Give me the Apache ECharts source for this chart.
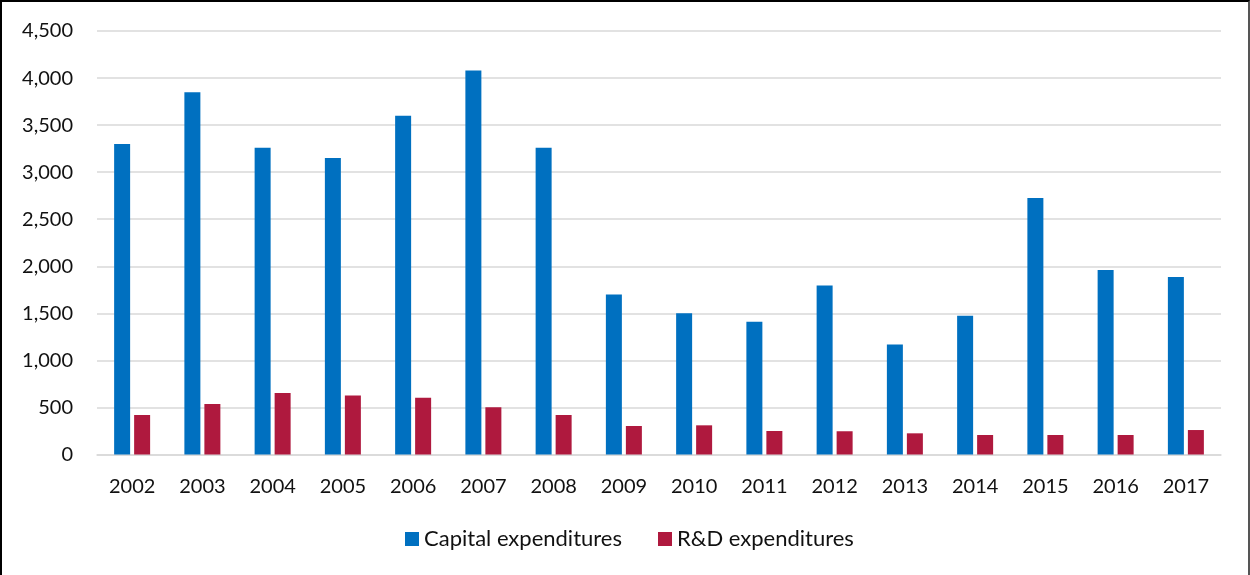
<!DOCTYPE html>
<html>
<head>
<meta charset="utf-8">
<script src="https://cdn.jsdelivr.net/npm/echarts@6/dist/echarts.min.js"></script>
<style>
  html, body { margin: 0; padding: 0; background: #fff; }
  #frame { position: absolute; left: 0; top: 0; width: 1250px; height: 575px; box-sizing: border-box;
           border-left: 2px solid #000; border-top: 2px solid #000; border-right: 2px solid #555; }
  #chart { position: absolute; left: 0; top: 0; width: 1250px; height: 575px; }
</style>
</head>
<body>
<div id="chart"></div>
<div id="frame"></div>
<script>
// Annual spending, 2002-2017
const years = ['2002','2003','2004','2005','2006','2007','2008','2009','2010','2011','2012','2013','2014','2015','2016','2017'];
const capitalExpenditures = [3300, 3850, 3260, 3150, 3600, 4080, 3260, 1700, 1500, 1410, 1795, 1170, 1475, 2725, 1960, 1885];
const rdExpenditures = [420, 537, 654, 626, 604, 502, 420, 303, 310, 250, 247, 225, 207, 207, 207, 260];
const seriesNames = ['Capital expenditures', 'R&D expenditures'];

const FONT = 'Lato';
const TEXT = '#111';
const chart = echarts.init(document.getElementById('chart'), null, { renderer: 'canvas' });
chart.setOption({
  animation: false,
  backgroundColor: '#fff',
  textStyle: { fontFamily: FONT },
  grid: { left: 97, right: 29, top: 31, bottom: 120.5, containLabel: false },
  legend: {
    data: seriesNames,
    top: 523,
    left: 400,
    itemWidth: 14,
    itemHeight: 14,
    itemGap: 36,
    icon: 'rect',
    textStyle: { fontFamily: FONT, fontSize: 22, color: TEXT }
  },
  xAxis: {
    type: 'category',
    data: years,
    axisLine: { show: true, lineStyle: { color: '#D9D9D9', width: 1.5 } },
    axisTick: { show: false },
    axisLabel: { fontFamily: FONT, fontSize: 20, color: TEXT, margin: 22 }
  },
  yAxis: {
    type: 'value',
    min: 0,
    max: 4500,
    interval: 500,
    axisLine: { show: false },
    axisTick: { show: false },
    splitLine: { lineStyle: { color: '#D9D9D9', width: 1.5 } },
    axisLabel: {
      fontFamily: FONT, fontSize: 20, color: TEXT, margin: 24,
      formatter: v => v.toLocaleString('en-US')
    }
  },
  series: [
    {
      name: seriesNames[0], type: 'bar', data: capitalExpenditures,
      barWidth: 16, barGap: '25%',
      itemStyle: { color: '#0070C0' }
    },
    {
      name: seriesNames[1], type: 'bar', data: rdExpenditures,
      barWidth: 16, barGap: '25%',
      itemStyle: { color: '#AF193E' }
    }
  ]
});
</script>
</body>
</html>
